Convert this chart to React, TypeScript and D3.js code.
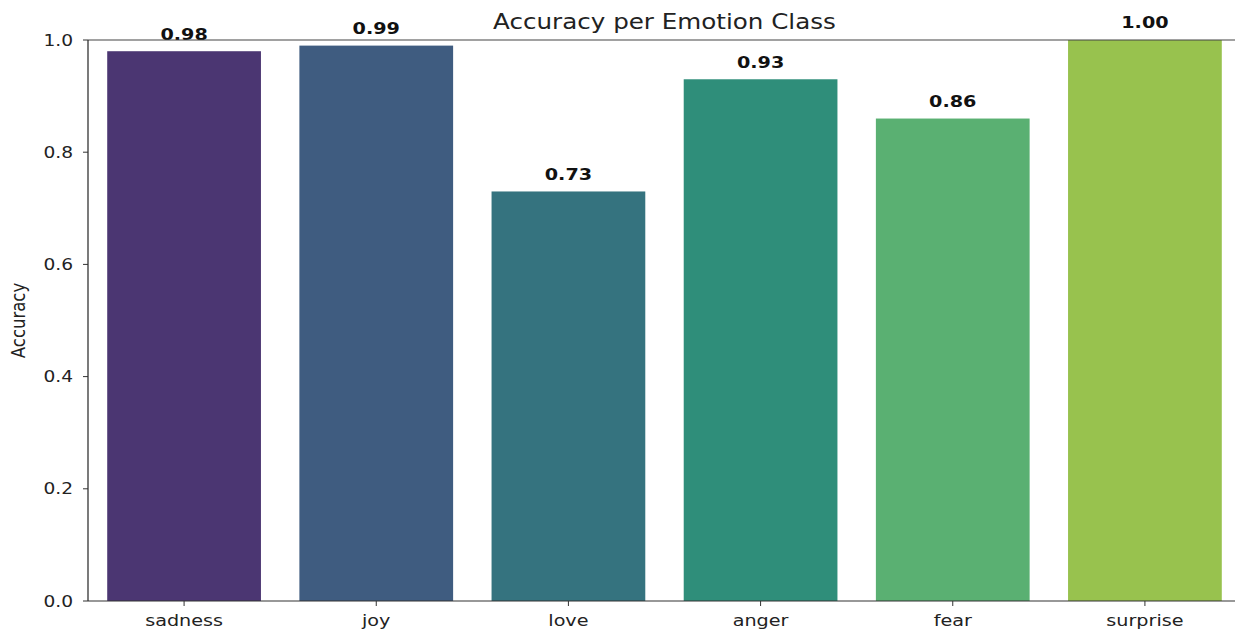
import React from "react";
import * as d3 from "d3";

// Per-class accuracy on the emotion test set
const classes = ["sadness", "joy", "love", "anger", "fear", "surprise"];
const accuracy = [0.98, 0.99, 0.73, 0.93, 0.86, 1.0];
const barColors = ["#4b3672", "#3f5c80", "#35737f", "#2f8e7a", "#5ab072", "#98c24e"];
const yTicks = [0, 0.2, 0.4, 0.6, 0.8, 1.0];

const W = 1235;
const H = 632;
const margin = { left: 88, right: -6, top: 40, bottom: 31 };
const SX = 1.2; // horizontal text stretch
const FONT = "'DejaVu Sans', sans-serif";

export default function App() {
  const x = d3
    .scaleBand<string>()
    .domain(classes)
    .range([margin.left, W - margin.right])
    .paddingInner(0.2)
    .paddingOuter(0.1);
  const y = d3.scaleLinear().domain([0, 1]).range([H - margin.bottom, margin.top]);
  const x0 = margin.left;
  const x1 = W - margin.right;
  const y0 = y(0);
  const yTop = y(1);

  return (
    <svg
      width={W}
      height={H}
      style={{ position: "absolute", left: 0, top: 0, background: "#fff" }}
      fontFamily={FONT}
    >
      {classes.map((c, i) => (
        <rect
          key={c}
          x={x(c)}
          y={y(accuracy[i])}
          width={x.bandwidth()}
          height={y0 - y(accuracy[i])}
          fill={barColors[i]}
        />
      ))}

      {/* value labels */}
      {classes.map((c, i) => (
        <text
          key={c + "-v"}
          transform={`translate(${(x(c) ?? 0) + x.bandwidth() / 2},${y(accuracy[i] + 0.01) - 6}) scale(${SX},1)`}
          textAnchor="middle"
          fontSize={16}
          fontWeight="bold"
          fill="#111"
        >
          {accuracy[i].toFixed(2)}
        </text>
      ))}

      {/* spines */}
      <line x1={x0} x2={x1} y1={yTop} y2={yTop} stroke="#444" strokeWidth={1.2} />
      <line x1={x0} x2={x1} y1={y0} y2={y0} stroke="#333" strokeWidth={1.2} />
      <line x1={x0} x2={x0} y1={yTop} y2={y0} stroke="#222" strokeWidth={1.2} />

      {/* y axis */}
      {yTicks.map((t) => (
        <g key={t}>
          <line x1={x0 - 5} x2={x0} y1={y(t)} y2={y(t)} stroke="#333" strokeWidth={1} />
          <text
            transform={`translate(${x0 - 15},${y(t) + 5.5}) scale(${SX},1)`}
            textAnchor="end"
            fontSize={15.5}
            fill="#222"
          >
            {t.toFixed(1)}
          </text>
        </g>
      ))}

      {/* x axis */}
      {classes.map((c) => {
        const cx = (x(c) ?? 0) + x.bandwidth() / 2;
        return (
          <g key={c + "-t"}>
            <line x1={cx} x2={cx} y1={y0} y2={y0 + 5} stroke="#333" strokeWidth={1} />
            <text
              transform={`translate(${cx},${y0 + 25}) scale(${SX},1)`}
              textAnchor="middle"
              fontSize={16}
              fill="#222"
            >
              {c}
            </text>
          </g>
        );
      })}

      <text
        transform={`translate(25,${(yTop + y0) / 2}) scale(${SX},1) rotate(-90)`}
        textAnchor="middle"
        fontSize={16.5}
        fill="#222"
      >
        Accuracy
      </text>

      <text
        transform={`translate(${(x0 + x1) / 2},29) scale(${SX},1)`}
        textAnchor="middle"
        fontSize={20.5}
        fill="#222"
      >
        Accuracy per Emotion Class
      </text>
    </svg>
  );
}
